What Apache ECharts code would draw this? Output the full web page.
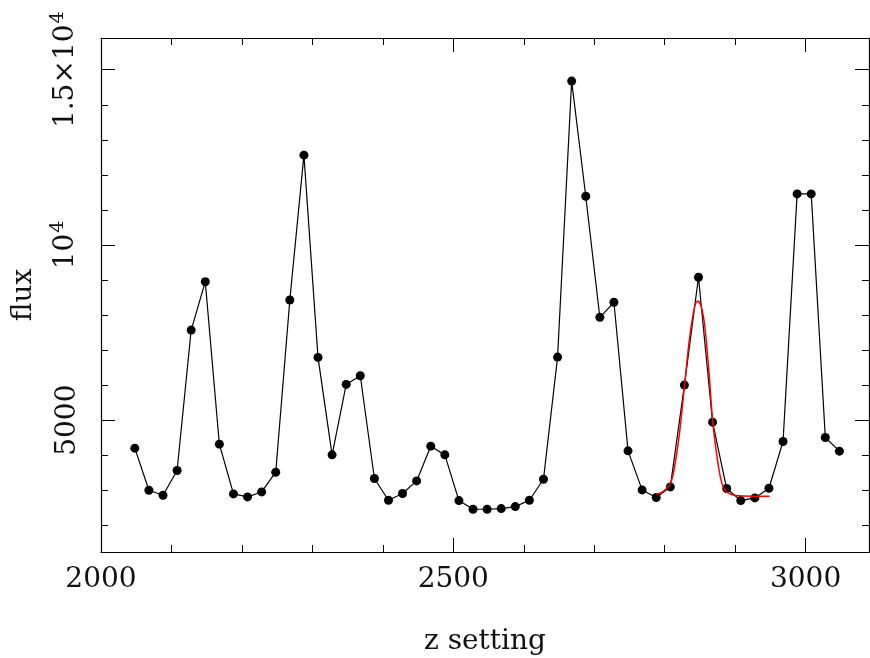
<!DOCTYPE html>
<html>
<head>
<meta charset="utf-8">
<script src="https://cdn.jsdelivr.net/npm/echarts@6/dist/echarts.min.js"></script>
<style>
  html, body { margin: 0; padding: 0; background: #fff; }
  #chart { width: 870px; height: 658px; }
</style>
</head>
<body>
<div id="chart"></div>
<script>
// ---- data ----
const zSetting = [2048, 2068, 2088, 2108, 2128, 2148, 2168, 2188, 2208, 2228,
                  2248, 2268, 2288, 2308, 2328, 2348, 2368, 2388, 2408, 2428,
                  2448, 2468, 2488, 2508, 2528, 2548, 2568, 2588, 2608, 2628,
                  2648, 2668, 2688, 2708, 2728, 2748, 2768, 2788, 2808, 2828,
                  2848, 2868, 2888, 2908, 2928, 2948, 2968, 2988, 3008, 3028, 3048];
const flux = [4200, 3000, 2857, 3563, 7571, 8951, 4314, 2894, 2809, 2951,
              3514, 8429, 12563, 6791, 4009, 6020, 6266, 3334, 2714, 2905,
              3266, 4257, 4009, 2705, 2457, 2457, 2476, 2533, 2714, 3314,
              6800, 14677, 11391, 7934, 8363, 4123, 3009, 2791, 3094, 6000,
              9077, 4943, 3048, 2705, 2781, 3057, 4391, 11457, 11457, 4505, 4114];
const fitZ = [2788, 2797, 2808, 2814, 2821, 2828, 2835, 2842, 2847, 2852,
              2857, 2863, 2868, 2873, 2879, 2885, 2894, 2911, 2949];
const fitFlux = [2886, 2951, 3191, 3666, 4620, 5951, 7286, 8191, 8400, 8237,
                 7666, 6334, 5000, 4143, 3380, 3020, 2886, 2837, 2829];
const xMajorTicks = [2000, 2500, 3000];
const xMinorTicks = [2100, 2200, 2300, 2400, 2600, 2700, 2800, 2900];
const yMajorTicks = [5000, 10000, 15000];
const yMinorTicks = [2000, 3000, 4000, 6000, 7000, 8000, 9000, 11000, 12000, 13000, 14000];
const xRange = [2000, 3090];
const yRange = [1237, 15906];
const xTitle = 'z setting';
const yTitle = 'flux';

const FONT = 'DejaVu Serif';
const INK = '#000';

function xAxisDef(pos, ticks, len, showLabel, showLine, name) {
  return {
    type: 'value', position: pos, min: xRange[0], max: xRange[1],
    axisLine: { show: showLine, onZero: false, lineStyle: { color: INK, width: 1.2 } },
    axisTick: { show: true, inside: true, length: len, customValues: ticks,
                lineStyle: { color: INK, width: 1 } },
    axisLabel: showLabel ? { show: true, customValues: ticks, margin: 14,
                formatter: function (v) { return String(v); },
                fontFamily: FONT, fontSize: 28, color: '#111' } : { show: false },
    splitLine: { show: false },
    name: name || '', nameLocation: 'middle', nameGap: 76,
    nameTextStyle: { fontFamily: FONT, fontSize: 28, color: '#111' }
  };
}
function yAxisDef(pos, ticks, len, showLabel, showLine, name) {
  return {
    type: 'value', position: pos, min: yRange[0], max: yRange[1],
    axisLine: { show: showLine, onZero: false, lineStyle: { color: INK, width: 1.2 } },
    axisTick: { show: true, inside: true, length: len, customValues: ticks,
                lineStyle: { color: INK, width: 1 } },
    axisLabel: showLabel ? {
      show: true, customValues: ticks, rotate: 90, margin: 19,
      fontFamily: FONT, fontSize: 28, color: '#111',
      formatter: function (v) {
        if (v === 15000) return '{a|1.5×10}{s|4}';
        if (v === 10000) return '{a|10}{s|4}';
        return '{a|' + v + '}';
      },
      rich: {
        a: { fontFamily: FONT, fontSize: 28, color: '#111' },
        s: { fontFamily: FONT, fontSize: 19, color: '#111', padding: [0, 0, 14, 1] }
      }
    } : { show: false },
    splitLine: { show: false },
    name: name || '', nameLocation: 'middle', nameGap: 63, nameRotate: 90,
    nameTextStyle: { fontFamily: FONT, fontSize: 28, color: '#111' }
  };
}

const chart = echarts.init(document.getElementById('chart'), null, { renderer: 'canvas' });
chart.setOption({
  animation: false,
  backgroundColor: '#fff',
  grid: { left: 101, right: 1, top: 38, bottom: 106, containLabel: false, outerBoundsMode: 'none' },
  xAxis: [
    xAxisDef('bottom', xMajorTicks, 14, true, true, xTitle),
    xAxisDef('bottom', xMinorTicks, 7, false, false),
    xAxisDef('top', xMajorTicks, 14, false, true),
    xAxisDef('top', xMinorTicks, 7, false, false)
  ],
  yAxis: [
    yAxisDef('left', yMajorTicks, 14, true, true, yTitle),
    yAxisDef('left', yMinorTicks, 7, false, false),
    yAxisDef('right', yMajorTicks, 14, false, true),
    yAxisDef('right', yMinorTicks, 7, false, false)
  ],
  series: [
    {
      type: 'line', xAxisIndex: 0, yAxisIndex: 0,
      data: zSetting.map((z, i) => [z, flux[i]]),
      symbol: 'circle', symbolSize: 9, showSymbol: true,
      itemStyle: { color: '#000' },
      lineStyle: { color: '#000', width: 1.2 },
      z: 2
    },
    {
      type: 'line', xAxisIndex: 0, yAxisIndex: 0,
      data: fitZ.map((z, i) => [z, fitFlux[i]]),
      symbol: 'none', smooth: 0.35,
      lineStyle: { color: '#ff0000', width: 1.5 },
      z: 3
    }
  ]
});
</script>
</body>
</html>
